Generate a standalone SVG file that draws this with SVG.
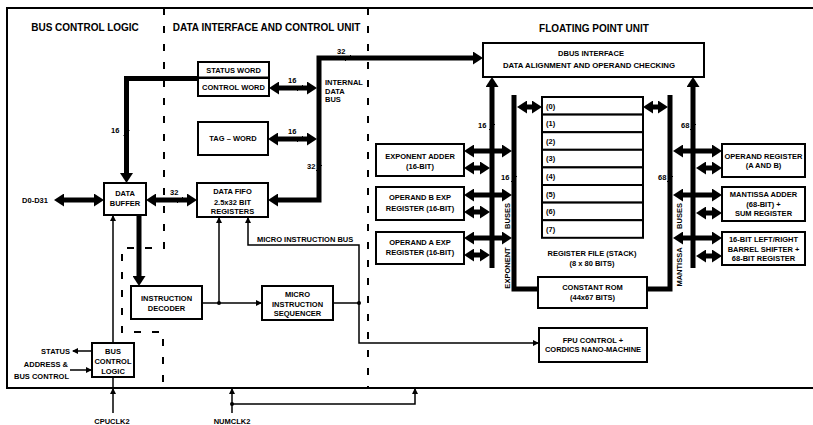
<svg xmlns="http://www.w3.org/2000/svg" width="813" height="425" viewBox="0 0 813 425">
<defs>
<marker id="ah" markerUnits="userSpaceOnUse" markerWidth="10" markerHeight="13" refX="2" refY="6.5" orient="auto-start-reverse"><path d="M0,0 L10,6.5 L0,13 Z" fill="#000"/></marker>
<marker id="as" markerUnits="userSpaceOnUse" markerWidth="6" markerHeight="6" refX="5" refY="3" orient="auto-start-reverse"><path d="M0,0 L6,3 L0,6 Z" fill="#000"/></marker>
</defs>
<style>
.box{fill:#fff;stroke:#000;stroke-width:2}
.thk{fill:none;stroke:#000;stroke-width:5}
.thn{fill:none;stroke:#000;stroke-width:1.5}
.tk{fill:none;stroke:#000;stroke-width:1}
.dash{fill:none;stroke:#000;stroke-width:2;stroke-dasharray:7 11}
.frame{fill:none;stroke:#000;stroke-width:2}
text{font-family:'Liberation Sans',Arial,sans-serif;font-weight:bold;font-size:7.5px;fill:#000}
.c{text-anchor:middle}
.e{text-anchor:end}
.h{font-size:10px}
</style>
<rect width="813" height="425" fill="#fff"/>
<path class="frame" d="M813,8 H7 V388 H813"/>
<path class="dash" d="M164,8 V248 H122 V332 H163 V388"/>
<path class="dash" d="M368,8 V388"/>
<g id="titles">
<text class="c h" x="85" y="30.5">BUS CONTROL LOGIC</text>
<text class="c h" x="266.5" y="30.5">DATA INTERFACE AND CONTROL UNIT</text>
<text class="c h" x="594" y="31.5">FLOATING POINT UNIT</text>
</g>
<g id="connectors">
<path class="thk" d="M198,78.5 H126.5 V175" marker-end="url(#ah)"/>
<path class="thk" d="M475,58 H319 V200 H276" marker-start="url(#ah)" marker-end="url(#ah)"/>
<path class="thk" d="M277,88 H309" marker-start="url(#ah)" marker-end="url(#ah)"/>
<path class="thk" d="M276,139 H309" marker-start="url(#ah)" marker-end="url(#ah)"/>
<path class="thk" d="M62,200 H96" marker-start="url(#ah)" marker-end="url(#ah)"/>
<path class="thk" d="M154,200 H189" marker-start="url(#ah)" marker-end="url(#ah)"/>
<path class="thk" d="M139,215 V278" marker-end="url(#ah)"/>
<path class="thk" d="M492,268 V85" marker-end="url(#ah)"/>
<path class="thk" d="M693,268 V85" marker-end="url(#ah)"/>
<path class="thk" d="M514,95 V289 H538"/>
<path class="thk" d="M670,95 V289 H647"/>
<path class="thk" d="M525,107 H534" marker-start="url(#ah)" marker-end="url(#ah)"/>
<path class="thk" d="M651,107 H660" marker-start="url(#ah)" marker-end="url(#ah)"/>
<path class="thk" d="M472,151 H504" marker-start="url(#ah)" marker-end="url(#ah)"/>
<path class="thk" d="M472,168 H482" marker-start="url(#ah)" marker-end="url(#ah)"/>
<path class="thk" d="M472,195 H504" marker-start="url(#ah)" marker-end="url(#ah)"/>
<path class="thk" d="M472,212 H482" marker-start="url(#ah)" marker-end="url(#ah)"/>
<path class="thk" d="M472,238 H504" marker-start="url(#ah)" marker-end="url(#ah)"/>
<path class="thk" d="M472,255 H482" marker-start="url(#ah)" marker-end="url(#ah)"/>
<path class="thk" d="M681,151 H714" marker-start="url(#ah)" marker-end="url(#ah)"/>
<path class="thk" d="M704,168 H714" marker-start="url(#ah)" marker-end="url(#ah)"/>
<path class="thk" d="M681,195 H714" marker-start="url(#ah)" marker-end="url(#ah)"/>
<path class="thk" d="M704,213 H714" marker-start="url(#ah)" marker-end="url(#ah)"/>
<path class="thk" d="M681,238 H714" marker-start="url(#ah)" marker-end="url(#ah)"/>
<path class="thk" d="M704,256 H714" marker-start="url(#ah)" marker-end="url(#ah)"/>
<path class="thn" d="M113,413 V389" marker-end="url(#as)"/>
<path class="thn" d="M113,388 V377"/>
<path class="thn" d="M113,343 V216" marker-end="url(#as)"/>
<path class="thn" d="M92,351 H73" marker-end="url(#as)"/>
<path class="thn" d="M70,370 H91" marker-end="url(#as)"/>
<path class="thn" d="M219,303 V218" marker-end="url(#as)"/>
<path class="thn" d="M202,303 H261" marker-end="url(#as)"/>
<path class="thn" d="M333,303 H359"/>
<path class="thn" d="M248,218 V245 H359 V343 H538" marker-start="url(#as)" marker-end="url(#as)"/>
<path class="thn" d="M232,413 V389" marker-end="url(#as)"/>
<path class="thn" d="M232,404 H415 V389" marker-end="url(#as)"/>
<circle cx="219" cy="303" r="2"/>
<circle cx="359" cy="303" r="2"/>
<circle cx="232" cy="404" r="2"/>
<path class="tk" d="M345,61 L351,55 M297,91 L303,85 M297,142 L303,136 M123.5,136 L129.5,130 M316,171 L322,165 M177,203 L183,197 M489,130 L495,124 M511,182 L517,176 M690,130 L696,124 M667,182 L673,176"/>
<text x="337" y="54">32</text>
<text x="288" y="83">16</text>
<text x="288" y="134">16</text>
<text x="111" y="133">16</text>
<text x="307" y="169">32</text>
<text x="170" y="195">32</text>
<text x="478" y="128">16</text>
<text x="501" y="180">16</text>
<text x="681" y="128">68</text>
<text x="658" y="180">68</text>
<text x="325" y="85">INTERNAL</text>
<text x="325" y="93.5">DATA</text>
<text x="325" y="102">BUS</text>
<text x="257" y="241.5">MICRO INSTRUCTION BUS</text>
<text class="e" x="70" y="353.5">STATUS</text>
<text class="e" x="68" y="367">ADDRESS &amp;</text>
<text class="e" x="69" y="378.5">BUS CONTROL</text>
<text class="c" x="35" y="202.7">D0-D31</text>
<text class="c" x="112" y="424">CPUCLK2</text>
<text class="c" x="232" y="424">NUMCLK2</text>
<text class="c" transform="translate(509.5,216) rotate(-90)">BUSES</text>
<text class="c" transform="translate(509.5,268) rotate(-90)">EXPONENT</text>
<text class="c" transform="translate(681.5,216) rotate(-90)">BUSES</text>
<text class="c" transform="translate(681.5,267) rotate(-90)">MANTISSA</text>
</g>
<g id="status-word"><rect class="box" x="198" y="62" width="71" height="15.5"/><text class="c" x="233.5" y="72.5">STATUS WORD</text></g>
<g id="control-word"><rect class="box" x="198" y="78" width="71" height="18"/><text class="c" x="233.5" y="89.7">CONTROL WORD</text></g>
<g id="tag-word"><rect class="box" x="198" y="122" width="70" height="33"/><text class="c" x="233" y="141.2">TAG – WORD</text></g>
<g id="data-buffer"><rect class="box" x="104" y="183" width="42" height="32"/><text class="c" x="125" y="196">DATA</text><text class="c" x="125" y="206">BUFFER</text></g>
<g id="data-fifo"><rect class="box" x="197" y="183" width="71" height="34"/><text class="c" x="232.5" y="194">DATA FIFO</text><text class="c" x="232.5" y="204.5">2.5x32 BIT</text><text class="c" x="232.5" y="214">REGISTERS</text></g>
<g id="instruction-decoder"><rect class="box" x="131" y="286" width="71" height="33"/><text class="c" x="166.5" y="300.5">INSTRUCTION</text><text class="c" x="166.5" y="311">DECODER</text></g>
<g id="micro-sequencer"><rect class="box" x="262" y="286" width="71" height="34"/><text class="c" x="297.5" y="296.5">MICRO</text><text class="c" x="297.5" y="306.5">INSTRUCTION</text><text class="c" x="297.5" y="316">SEQUENCER</text></g>
<g id="bus-control-logic"><rect class="box" x="92" y="343" width="42" height="34"/><text class="c" x="113" y="353.5">BUS</text><text class="c" x="113" y="363.5">CONTROL</text><text class="c" x="113" y="373.5">LOGIC</text></g>
<g id="dbus-interface"><rect class="box" x="483" y="43" width="221" height="34"/><text class="c" x="591" y="56">DBUS INTERFACE</text><text class="c" x="589" y="68" style="font-size:7.8px">DATA ALIGNMENT AND OPERAND CHECKING</text></g>
<g id="exponent-adder"><rect class="box" x="376" y="144" width="88" height="32"/><text class="c" x="420" y="158.7">EXPONENT ADDER</text><text class="c" x="420" y="168.7">(16-BIT)</text></g>
<g id="operand-b-exp"><rect class="box" x="376" y="187" width="88" height="33"/><text class="c" x="420" y="199.7">OPERAND B EXP</text><text class="c" x="420" y="210.7">REGISTER (16-BIT)</text></g>
<g id="operand-a-exp"><rect class="box" x="376" y="232" width="88" height="32"/><text class="c" x="420" y="244.7">OPERAND A EXP</text><text class="c" x="420" y="254.7">REGISTER (16-BIT)</text></g>
<g id="register-file">
<rect class="box" x="542" y="97" width="101" height="17.6"/>
<rect class="box" x="542" y="114.6" width="101" height="17.6"/>
<rect class="box" x="542" y="132.2" width="101" height="17.6"/>
<rect class="box" x="542" y="149.8" width="101" height="17.6"/>
<rect class="box" x="542" y="167.4" width="101" height="17.6"/>
<rect class="box" x="542" y="185" width="101" height="17.6"/>
<rect class="box" x="542" y="202.6" width="101" height="17.6"/>
<rect class="box" x="542" y="220.2" width="101" height="17.6"/>
<text x="546" y="108.5">(0)</text>
<text x="546" y="126.1">(1)</text>
<text x="546" y="143.7">(2)</text>
<text x="546" y="161.3">(3)</text>
<text x="546" y="178.9">(4)</text>
<text x="546" y="196.5">(5)</text>
<text x="546" y="214.1">(6)</text>
<text x="546" y="231.7">(7)</text>
<text class="c" x="592" y="255.7">REGISTER FILE (STACK)</text>
<text class="c" x="592" y="265.7">(8 x 80 BITS)</text>
</g>
<g id="constant-rom"><rect class="box" x="538" y="277" width="109" height="31"/><text class="c" x="592.5" y="289.7">CONSTANT ROM</text><text class="c" x="592.5" y="299.7">(44x67 BITS)</text></g>
<g id="fpu-control"><rect class="box" x="539" y="328" width="108" height="34"/><text class="c" x="593" y="342.7">FPU CONTROL +</text><text class="c" x="593" y="352">CORDICS NANO-MACHINE</text></g>
<g id="operand-register"><rect class="box" x="722" y="144" width="83" height="33"/><text class="c" x="763.5" y="158.7">OPERAND REGISTER</text><text class="c" x="763.5" y="167.7">(A AND B)</text></g>
<g id="mantissa-adder"><rect class="box" x="722" y="187" width="83" height="34"/><text class="c" x="763.5" y="196.7">MANTISSA ADDER</text><text class="c" x="763.5" y="206.7">(68-BIT) +</text><text class="c" x="763.5" y="215.7">SUM REGISTER</text></g>
<g id="barrel-shifter"><rect class="box" x="722" y="232" width="83" height="33"/><text class="c" x="763.5" y="241.7">16-BIT LEFT/RIGHT</text><text class="c" x="763.5" y="251.7">BARREL SHIFTER +</text><text class="c" x="763.5" y="260.7">68-BIT REGISTER</text></g>
</svg>
